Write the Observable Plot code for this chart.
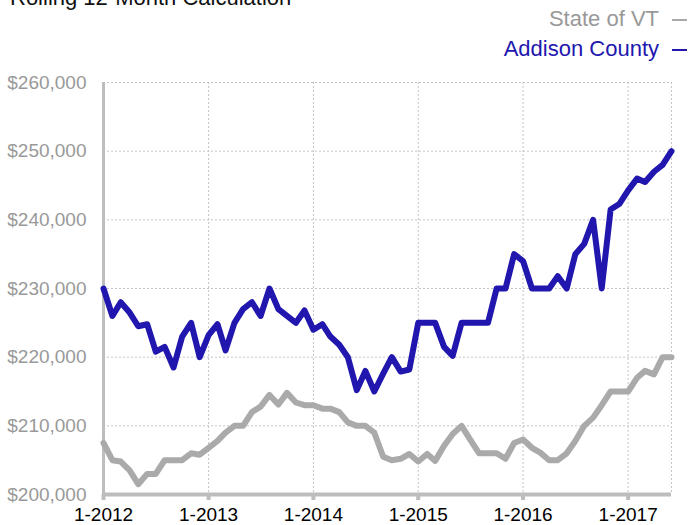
<!DOCTYPE html>
<html>
<head>
<meta charset="utf-8">
<script src="https://cdn.jsdelivr.net/npm/d3@7"></script>
<script src="https://cdn.jsdelivr.net/npm/@observablehq/plot@0.6"></script>
<style>
  body { margin: 0; background: #fff; font-family: "Helvetica Neue", Helvetica, Arial, "Liberation Sans", sans-serif; }
  #wrap { width: 689px; height: 525px; overflow: hidden; position: relative; background: #fff; }
  #header { position: relative; height: 66px; }
  #title { position: absolute; left: 10px; top: -12px; font-size: 22px; line-height: 20px; color: #111; white-space: nowrap; }
  #legend { position: absolute; right: 2px; top: 4px; font-size: 22px; line-height: 30px; text-align: right; white-space: nowrap; }
  .sw { display: inline-block; width: 15px; height: 2px; margin-left: 13px; vertical-align: 5px; }
  #chart svg { display: block; }
</style>
</head>
<body>
<div id="wrap">
  <div id="header">
    <div id="title">Rolling 12-Month Calculation</div>
    <div id="legend"></div>
  </div>
  <div id="chart"></div>
</div>
<script>
// Series names and colours
const seriesNames = ["State of VT", "Addison County"];
const seriesColors = ["#aaaaaa", "#2117ae"];
const legendTextColors = ["#999999", "#2117ae"];

// Monthly categories: 1-2012 through 6-2017
const dates = d3.utcMonth.range(new Date(Date.UTC(2012, 0, 1)), new Date(Date.UTC(2017, 6, 1)));

// Median price, rolling 12 months (State of VT)
const vtValues = [
  207500, 205000, 204800, 203500, 201500, 203000, 203000, 205000, 205000, 205000, 206000, 205800,
  206800, 207800, 209000, 210000, 210000, 212000, 212800, 214500, 213100, 214800, 213400, 213000,
  213000, 212500, 212500, 212000, 210500, 210000, 210000, 209000, 205500, 205000, 205200, 205900,
  204800, 205900, 204900, 207100, 208800, 210000, 208000, 206000, 206000, 206000, 205200, 207500,
  208000, 206800, 206100, 205000, 205000, 206000, 207800, 210000, 211200, 213000, 215000, 215000,
  215000, 217000, 218000, 217500, 220000, 220000
];

// Median price, rolling 12 months (Addison County)
const addisonValues = [
  230000, 226000, 228000, 226500, 224500, 224800, 220800, 221500, 218500, 223000, 225000, 220000,
  223200, 224800, 221000, 225000, 227000, 228000, 226000, 230000, 227000, 226000, 225000, 226800,
  224000, 224800, 223000, 221800, 220000, 215200, 218000, 215000, 217600, 220000, 217900, 218200,
  225000, 225000, 225000, 221500, 220200, 225000, 225000, 225000, 225000, 230000, 230000, 235000,
  234000, 230000, 230000, 230000, 231800, 230000, 235000, 236500, 240000, 230000, 241500, 242300,
  244300, 246000, 245500, 247000, 248000, 250000
];

// Tick values
const yTicks = [200000, 210000, 220000, 230000, 240000, 250000, 260000];
const xTicks = [2012, 2013, 2014, 2015, 2016, 2017].map(y => new Date(Date.UTC(y, 0, 1)));
const xGrid = [...xTicks, dates[dates.length - 1]];

const rows = [
  ...vtValues.map((v, i) => ({date: dates[i], value: v, series: seriesNames[0]})),
  ...addisonValues.map((v, i) => ({date: dates[i], value: v, series: seriesNames[1]}))
];

// Legend
const legend = document.getElementById("legend");
seriesNames.forEach((name, i) => {
  const row = document.createElement("div");
  row.style.color = legendTextColors[i];
  row.textContent = name;
  const sw = document.createElement("span");
  sw.className = "sw";
  sw.style.background = seriesColors[i];
  row.appendChild(sw);
  legend.appendChild(row);
});

const fmtMoney = d => "$" + d3.format(",")(d);

const chart = Plot.plot({
  width: 689,
  height: 459,
  marginTop: 16,
  marginBottom: 31,
  marginLeft: 103,
  marginRight: 18,
  style: {
    fontFamily: '"Helvetica Neue", Helvetica, Arial, "Liberation Sans", sans-serif',
    fontSize: "19px",
    background: "#fff",
    overflow: "visible"
  },
  x: {type: "utc", domain: [dates[0], dates[dates.length - 1]]},
  y: {domain: [yTicks[0], yTicks[yTicks.length - 1]]},
  color: {domain: seriesNames, range: seriesColors},
  marks: [
    Plot.ruleY(yTicks.filter(d => d > yTicks[0]), {stroke: "#c4c4c4", strokeWidth: 1, strokeDasharray: "2,2"}),
    Plot.ruleX(xGrid.slice(1), {stroke: "#c4c4c4", strokeWidth: 1, strokeDasharray: "2,2"}),
    Plot.ruleX([dates[0]], {stroke: "#bdbdbd", strokeWidth: 3}),
    Plot.axisX({
      ticks: xTicks,
      tickFormat: d3.utcFormat("%-m-%Y"),
      tickSize: 6,
      tickPadding: 7,
      stroke: "#bdbdbd",
      strokeWidth: 4,
      fill: "#000",
      fontSize: 19,
      label: null
    }),
    Plot.axisY({
      ticks: yTicks,
      tickFormat: fmtMoney,
      tickSize: 0,
      tickPadding: 17,
      fill: "#999",
      fontSize: 19,
      label: null
    }),
    Plot.ruleY([yTicks[0]], {stroke: "#bdbdbd", strokeWidth: 4}),
    Plot.line(rows, {x: "date", y: "value", z: "series", stroke: "series", strokeWidth: 6, strokeLinejoin: "round"})
  ]
});
document.getElementById("chart").appendChild(chart);
</script>
</body>
</html>
